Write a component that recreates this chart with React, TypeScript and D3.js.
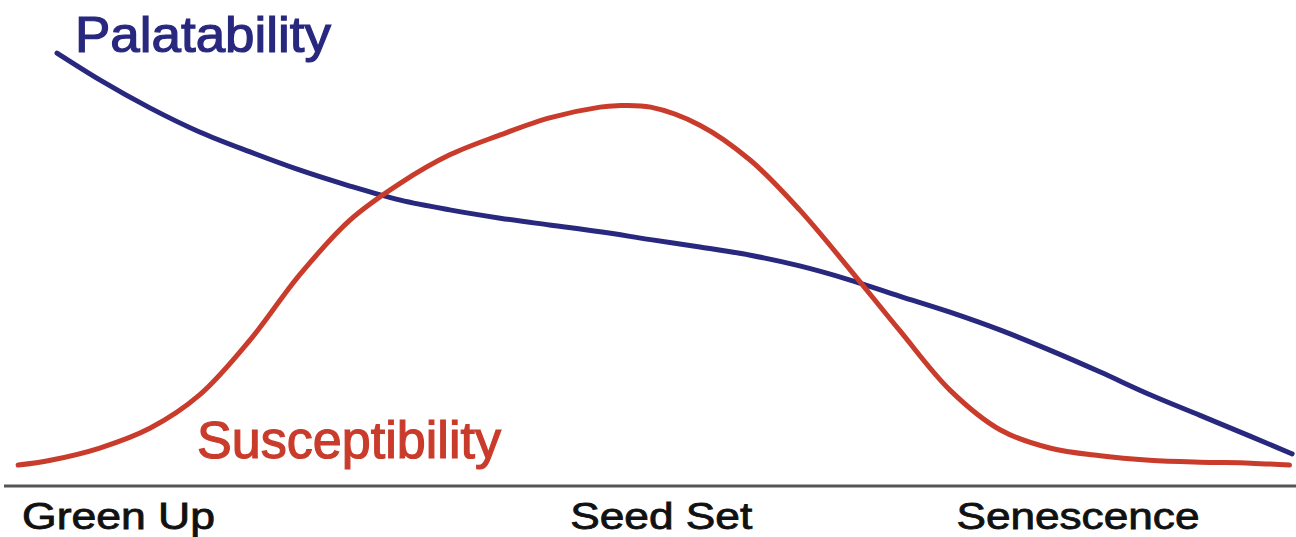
import React from 'react';
import * as d3 from 'd3';

// season progress (0-100) and relative level (0-100)
const palatabilityX = [4.4, 7.7, 11.6, 15.4, 19.3, 23.1, 27.0, 30.9, 34.7, 38.6, 42.4, 46.3, 50.2, 54.0, 57.9, 61.7, 65.6, 69.4, 73.3, 77.2, 81.0, 84.9, 88.7, 92.6, 96.5, 99.7];
const palatabilityY = [89.1, 83.6, 77.8, 72.9, 68.8, 65.1, 61.8, 58.9, 56.9, 55.2, 53.8, 52.4, 50.8, 49.3, 47.6, 45.4, 42.5, 39.2, 35.9, 32.2, 28.1, 23.6, 19.0, 14.7, 10.4, 6.8];

const susceptibilityX = [1.4, 3.9, 7.7, 11.6, 15.4, 19.3, 23.1, 27.0, 30.9, 34.7, 38.6, 42.4, 46.3, 47.6, 50.2, 54.0, 57.9, 61.7, 65.6, 69.4, 73.3, 77.2, 81.0, 84.9, 88.7, 92.6, 96.5, 99.5];
const susceptibilityY = [4.5, 5.5, 8.0, 12.1, 18.9, 30.2, 43.5, 54.8, 62.4, 68.2, 72.3, 75.8, 78.0, 78.3, 78.0, 74.3, 67.1, 56.9, 44.6, 32.2, 19.9, 11.7, 8.0, 6.4, 5.5, 5.1, 4.9, 4.5];

const stageLabels = ['Green Up', 'Seed Set', 'Senescence'];
const stageAt = [1.7, 44.0, 73.8];

const W = 1296;
const H = 537;
const BLUE = '#28287f';
const RED = '#c93b2b';

const App: React.FC = () => {
  const x = d3.scaleLinear().domain([0, 100]).range([0, W]);
  const y = d3.scaleLinear().domain([0, 100]).range([487, 0]);

  const palLine = d3.line<[number, number]>()
    .x(d => x(d[0]))
    .y(d => y(d[1]))
    .curve(d3.curveMonotoneX);

  const susLine = d3.line<[number, number]>()
    .x(d => x(d[0]))
    .y(d => y(d[1]))
    .curve(d3.curveCatmullRom.alpha(0.5));

  const pal = palatabilityX.map((v, i) => [v, palatabilityY[i]] as [number, number]);
  const sus = susceptibilityX.map((v, i) => [v, susceptibilityY[i]] as [number, number]);

  const stageWidths = [193, 182, 243];

  return (
    <svg width={W} height={H} style={{ position: 'absolute', left: 0, top: 0, background: '#fff' }}
      fontFamily="'Liberation Sans', Arial, sans-serif">
      <path d={palLine(pal) ?? ''} fill="none" stroke={BLUE} strokeWidth={5} strokeLinecap="round" />
      <path d={susLine(sus) ?? ''} fill="none" stroke={RED} strokeWidth={5} strokeLinecap="round" />

      <line x1={4} x2={W} y1={y(0) - 1} y2={y(0) - 1} stroke="#555" strokeWidth={3} />

      <text x={75} y={52} fontSize={50} fill={BLUE} stroke={BLUE} strokeWidth={1.2}
        textLength={256} lengthAdjust="spacingAndGlyphs">Palatability</text>
      <text x={197} y={458} fontSize={51} fill={RED} stroke={RED} strokeWidth={1.2}
        textLength={304} lengthAdjust="spacingAndGlyphs">Susceptibility</text>

      {stageLabels.map((s, i) => (
        <text key={s} x={x(stageAt[i])} y={529} fontSize={36} fill="#111" stroke="#111" strokeWidth={0.8}
          textLength={stageWidths[i]} lengthAdjust="spacingAndGlyphs">{s}</text>
      ))}
    </svg>
  );
};

export default App;
